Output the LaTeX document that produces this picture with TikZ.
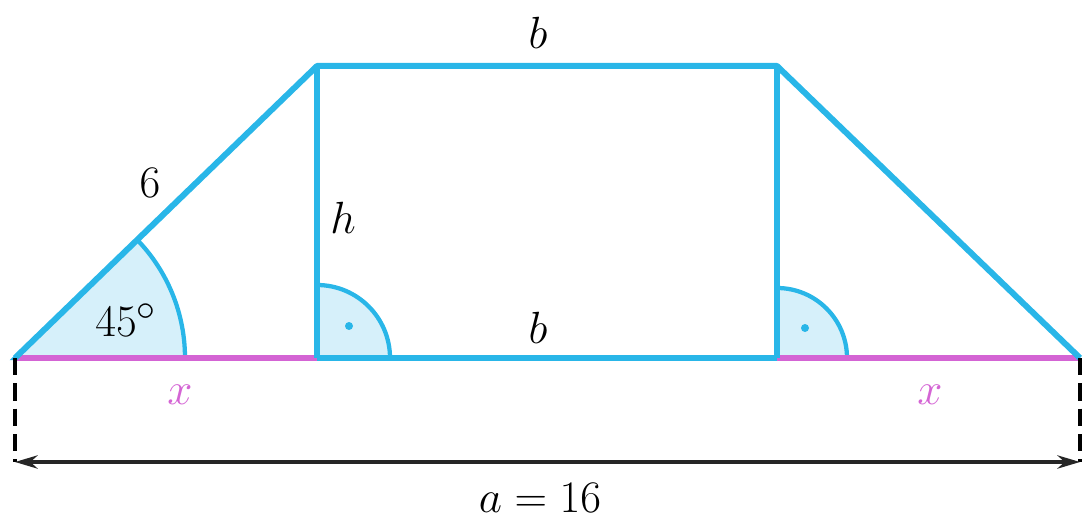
\documentclass[tikz,border=0pt]{standalone}
\usetikzlibrary{arrows.meta}
\definecolor{lblue}{RGB}{41,182,232}
\definecolor{lfill}{RGB}{214,240,250}
\definecolor{lmag}{RGB}{212,100,212}
\newcommand\lbltxt[1]{\scalebox{1.36}{\Huge$#1$}}
\begin{document}
\begin{tikzpicture}[x=0.75pt,y=-0.75pt,
  edge/.style={draw=lblue,line width=4.5pt,line join=round},
  magedge/.style={draw=lmag,line width=4.5pt},
  anglefill/.style={fill=lfill,draw=lblue,line width=3.2pt},
  lbl/.style={inner sep=0pt},
  dimline/.style={draw=black!85,line width=2.4pt},
  dimdash/.style={draw=black,line width=2.4pt,dash pattern=on 13pt off 6pt}]
\useasboundingbox (0,0) rectangle (1084,520);
\coordinate (A) at (15,358);
\coordinate (B) at (1080,358);
\coordinate (C) at (777,66);
\coordinate (D) at (317,66);
\coordinate (E) at (317,358);
\coordinate (F) at (777,358);
\coordinate (A2) at (15,462);
\coordinate (B2) at (1080,462);
% angle sectors
\path[anglefill] (A) -- ++(170,0) arc[start angle=0,end angle=-44,radius=170] -- cycle;
\path[anglefill] (E) -- ++(73,0) arc[start angle=0,end angle=-90,radius=73] -- cycle;
\path[anglefill] (F) -- ++(70,0) arc[start angle=0,end angle=-90,radius=70] -- cycle;
\fill[lblue] (349,326) circle (3pt);
\fill[lblue] (805,328) circle (3pt);
% shape
\draw[edge] (E) -- (F);
\draw[magedge] (A) -- (E);
\draw[magedge] (F) -- (B);
\draw[edge] (A) -- (D) -- (C) -- (B);
\draw[edge] (D) -- (E);
\draw[edge] (C) -- (F);
% dimension
\draw[dimdash] (A) -- (A2);
\draw[dimdash] (B) -- (B2);
\draw[dimline,{Stealth[length=17pt,width=10pt]}-{Stealth[length=17pt,width=10pt]}] (A2) -- (B2);
% labels
\node[lbl] (lb1) at (538,33) {\lbltxt{b}};
\node[lbl] (l6) at (150,183) {\lbltxt{6}};
\node[lbl] (lh) at (343,218) {\lbltxt{h}};
\node[lbl] (l45) at (126,320) {\lbltxt{45^\circ}};
\node[lbl] (lb2) at (538,328) {\lbltxt{b}};
\node[lbl,text=lmag] (lx1) at (180,395) {\lbltxt{x}};
\node[lbl,text=lmag] (lx2) at (930,395) {\lbltxt{x}};
\node[lbl] (la) at (540,498) {\lbltxt{a=16}};
\end{tikzpicture}
\end{document}
